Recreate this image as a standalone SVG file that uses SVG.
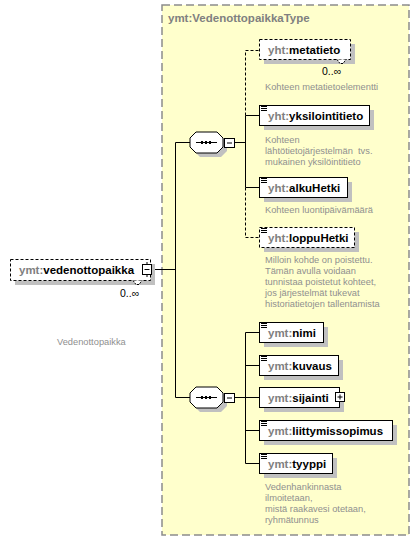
<svg xmlns="http://www.w3.org/2000/svg" width="420" height="541" viewBox="0 0 420 541">
<style>
.frame{fill:#ffffcc;stroke:#8c8c8c;stroke-width:1.5;stroke-dasharray:8,4}
.shadow{fill:#c0c0c0;stroke:none}
.box{fill:#ffffff;stroke:#000000;stroke-width:1}
.opt{fill:#ffffff;stroke:#000000;stroke-width:1;stroke-dasharray:3,2}
.name{font-family:"Liberation Sans",Arial,sans-serif;font-size:11.5px;font-weight:bold;fill:#000000}
.pre{fill:#808080}
.title{font-family:"Liberation Sans",Arial,sans-serif;font-size:11.5px;font-weight:bold;fill:#808080}
.desc{font-family:"Liberation Sans",Arial,sans-serif;font-size:9.3px;fill:#8f8f8f}
.occ{font-family:"Liberation Sans",Arial,sans-serif;font-size:10.5px;fill:#000000}
.ln{fill:none;stroke:#000000;stroke-width:1}
.dl{fill:none;stroke:#000000;stroke-width:1;stroke-dasharray:3,2}
.icon{fill:none;stroke:#000000;stroke-width:1}
</style>
<defs>
<g id="lines3">
<path d="M0,0.5h6M0,2.5h6M0,4.5h6" class="icon"/>
</g>
<g id="seq">
<polygon class="shadow" points="200,136 221,136 227,142 227,151 221,157 200,157 194,151 194,142"/>
<polygon class="box" points="196,132 217,132 223,138 223,147 217,153 196,153 190,147 190,138"/>
<path class="ln" d="M196,142.5h21"/>
<rect x="201" y="141" width="2" height="3" fill="#000"/>
<rect x="205" y="141" width="2" height="3" fill="#000"/>
<rect x="209" y="141" width="2" height="3" fill="#000"/>
<rect class="box" x="224.5" y="138.5" width="10" height="9"/>
<path class="ln" d="M227,143h5"/>
</g>
</defs>

<g id="type-frame">
<rect class="frame" x="162" y="5" width="247" height="530"/>
<text class="title" x="168" y="22">ymt:VedenottopaikkaType</text>
</g>

<g id="connectors">
<path class="ln" d="M152,269.5H175.5M175.5,142.5V397.5M175.5,142.5H190M175.5,397.5H190"/>
<path class="ln" d="M234.5,142.5H245.5M245.5,115.5V187.5M245.5,115.5H259M245.5,187.5H259"/>
<path class="dl" d="M245.5,115.5V50.5H259M245.5,187.5V237.5H259"/>
<path class="ln" d="M234.5,397.5H259M245.5,332.5V463.5M245.5,332.5H259M245.5,365.5H259M245.5,430.5H259M245.5,463.5H259"/>
</g>

<g id="seq1">
<use href="#seq"/>
</g>
<g id="seq2">
<use href="#seq" transform="translate(0,255)"/>
</g>

<g id="vedenottopaikka">
<rect class="shadow" x="15" y="264" width="140" height="21"/>
<rect class="opt" x="10.5" y="259.5" width="140" height="21"/>
<path d="M133,280.5l3,4h3l3,-4" fill="#ffffff" stroke="#000" stroke-width="1" stroke-dasharray="2,1"/>
<text class="name" x="19" y="274"><tspan class="pre">ymt:</tspan>vedenottopaikka</text>
<rect class="box" x="142.5" y="264.5" width="9" height="10"/>
<path class="ln" d="M144.5,269.5h5M147,262v2.5M147,274.5v2.5"/>
<text class="occ" x="120" y="297">0..∞</text>
<text class="desc" x="57" y="345">Vedenottopaikka</text>
</g>

<g id="metatieto">
<rect class="shadow" x="264" y="44" width="91" height="20"/>
<rect class="opt" x="259.5" y="39.5" width="91" height="20"/>
<path d="M337,59.5l3,4h3l3,-4" fill="#ffffff" stroke="#000" stroke-width="1" stroke-dasharray="2,1"/>
<text class="name" x="268" y="54"><tspan class="pre">yht:</tspan>metatieto</text>
<text class="occ" x="322" y="75">0..∞</text>
<text class="desc" x="265" y="90">Kohteen metatietoelementti</text>
</g>

<g id="yksilointitieto">
<rect class="shadow" x="264" y="110" width="110" height="20"/>
<rect class="box" x="259.5" y="105.5" width="110" height="20"/>
<use href="#lines3" x="261" y="106"/>
<text class="name" x="268" y="120"><tspan class="pre">yht:</tspan>yksilointitieto</text>
<text class="desc" x="265" y="143">Kohteen</text>
<text class="desc" x="265" y="154">lähtötietojärjestelmän&#160; tvs.</text>
<text class="desc" x="265" y="165">mukainen yksilöintitieto</text>
</g>

<g id="alkuHetki">
<rect class="shadow" x="264" y="182" width="88" height="20"/>
<rect class="box" x="259.5" y="177.5" width="88" height="20"/>
<use href="#lines3" x="261" y="178"/>
<text class="name" x="268" y="192"><tspan class="pre">yht:</tspan>alkuHetki</text>
<text class="desc" x="265" y="213">Kohteen luontipäivämäärä</text>
</g>

<g id="loppuHetki">
<rect class="shadow" x="264" y="232" width="95" height="20"/>
<rect class="opt" x="259.5" y="227.5" width="95" height="20"/>
<use href="#lines3" x="261" y="228"/>
<text class="name" x="268" y="242"><tspan class="pre">yht:</tspan>loppuHetki</text>
<text class="desc" x="265" y="263">Milloin kohde on poistettu.</text>
<text class="desc" x="265" y="274">Tämän avulla voidaan</text>
<text class="desc" x="265" y="285">tunnistaa poistetut kohteet,</text>
<text class="desc" x="265" y="296">jos järjestelmät tukevat</text>
<text class="desc" x="265" y="307">historiatietojen tallentamista</text>
</g>

<g id="nimi">
<rect class="shadow" x="264" y="327" width="64" height="20"/>
<rect class="box" x="259.5" y="322.5" width="64" height="20"/>
<use href="#lines3" x="261" y="323"/>
<text class="name" x="268" y="337"><tspan class="pre">ymt:</tspan>nimi</text>
</g>

<g id="kuvaus">
<rect class="shadow" x="264" y="360" width="79" height="20"/>
<rect class="box" x="259.5" y="355.5" width="79" height="20"/>
<use href="#lines3" x="261" y="356"/>
<text class="name" x="268" y="370"><tspan class="pre">ymt:</tspan>kuvaus</text>
</g>

<g id="sijainti">
<rect class="shadow" x="264" y="392" width="80" height="20"/>
<rect class="box" x="259.5" y="387.5" width="80" height="20"/>
<text class="name" x="268" y="402"><tspan class="pre">ymt:</tspan>sijainti</text>
<rect class="box" x="335.5" y="392.5" width="9" height="9"/>
<path class="ln" d="M337.5,397h5M340,394.5v5"/>
</g>

<g id="liittymissopimus">
<rect class="shadow" x="264" y="425" width="133" height="20"/>
<rect class="box" x="259.5" y="420.5" width="133" height="20"/>
<use href="#lines3" x="261" y="421"/>
<text class="name" x="268" y="435"><tspan class="pre">ymt:</tspan>liittymissopimus</text>
</g>

<g id="tyyppi">
<rect class="shadow" x="264" y="458" width="73" height="20"/>
<rect class="box" x="259.5" y="453.5" width="73" height="20"/>
<use href="#lines3" x="261" y="454"/>
<text class="name" x="268" y="468"><tspan class="pre">ymt:</tspan>tyyppi</text>
<text class="desc" x="265" y="490">Vedenhankinnasta</text>
<text class="desc" x="265" y="501">ilmoitetaan,</text>
<text class="desc" x="265" y="512">mistä raakavesi otetaan,</text>
<text class="desc" x="265" y="523">ryhmätunnus</text>
</g>
</svg>
